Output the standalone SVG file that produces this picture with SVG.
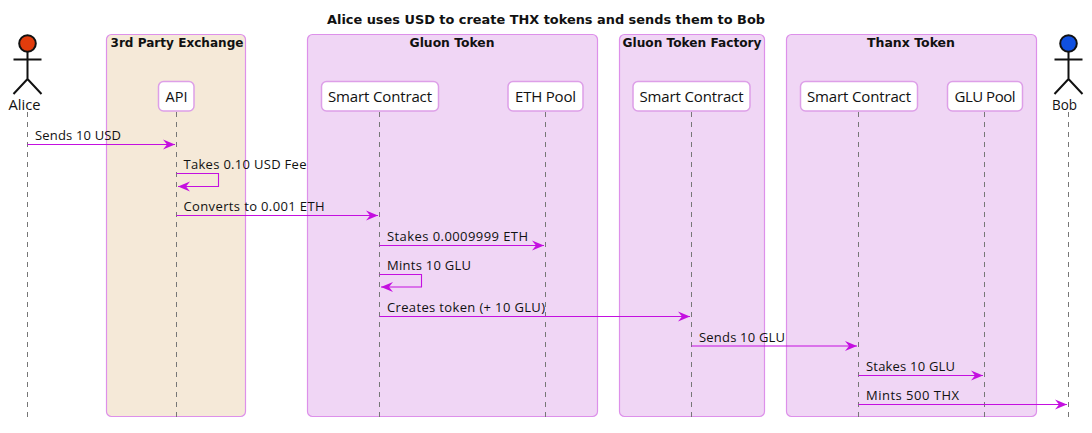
<svg xmlns="http://www.w3.org/2000/svg" width="1092" height="433" viewBox="0 0 1092 433">
<defs>
<marker id="ah" markerUnits="userSpaceOnUse" markerWidth="14" markerHeight="12" refX="12" refY="5" orient="auto-start-reverse" overflow="visible"><path d="M0,0 L12,5 L0,10 L4,5 Z" fill="#c40fe0"/></marker>
</defs>
<style>
text{font-family:"Open Sans","Noto Sans","DejaVu Sans",sans-serif;fill:#111}
.title{font-family:"DejaVu Sans",sans-serif;font-size:13px;font-weight:bold;text-anchor:middle}
.box{stroke:#dd90ea;stroke-width:1.2}
.bt{font-family:"DejaVu Sans",sans-serif;font-size:12px;font-weight:bold;text-anchor:middle}
.p{fill:#fff;stroke:#dd9fe8;stroke-width:1.5}
.pt{font-size:15px;text-anchor:middle}
.life{stroke:#777;stroke-width:1;stroke-dasharray:5 5;fill:none}
.msg{stroke:#c40fe0;stroke-width:1.1;fill:none;marker-end:url(#ah)}
.ml{font-size:13px}
.actor{stroke:#111;stroke-width:2;fill:none}
</style>
<rect width="1092" height="433" fill="#fff"/>
<text class="title" x="546" y="24" textLength="438" lengthAdjust="spacingAndGlyphs">Alice uses USD to create THX tokens and sends them to Bob</text>
<g id="box-exchange"><rect class="box" x="106.5" y="34.5" width="139" height="382" rx="5" fill="#f5e9d8"/><text class="bt" x="177" y="47" textLength="133" lengthAdjust="spacingAndGlyphs">3rd Party Exchange</text></g>
<g id="box-gluon"><rect class="box" x="307.5" y="34.5" width="290" height="382" rx="5" fill="#f0d6f5"/><text class="bt" x="452" y="47" textLength="85" lengthAdjust="spacingAndGlyphs">Gluon Token</text></g>
<g id="box-factory"><rect class="box" x="619.5" y="34.5" width="145" height="382" rx="5" fill="#f0d6f5"/><text class="bt" x="692" y="47" textLength="139" lengthAdjust="spacingAndGlyphs">Gluon Token Factory</text></g>
<g id="box-thanx"><rect class="box" x="786.5" y="34.5" width="250" height="382" rx="5" fill="#f0d6f5"/><text class="bt" x="911" y="47" textLength="88" lengthAdjust="spacingAndGlyphs">Thanx Token</text></g>
<g id="lifelines">
<path class="life" d="M27.5 112V417"/><path class="life" d="M176.5 112V417"/><path class="life" d="M379.5 112V417"/><path class="life" d="M545.5 112V417"/><path class="life" d="M691.5 112V417"/><path class="life" d="M858.5 112V417"/><path class="life" d="M984.5 112V417"/><path class="life" d="M1068.5 112V417"/>
</g>
<g id="alice"><circle cx="27.5" cy="43.5" r="8.3" fill="#e23c0c" stroke="#111" stroke-width="2"/><path class="actor" d="M27.5 52V79M13.5 59.5H41.5M13.5 94L27.5 79L41.5 94"/><text class="pt" x="24.5" y="110" textLength="32" lengthAdjust="spacingAndGlyphs">Alice</text></g>
<g id="bob"><circle cx="1068.5" cy="43.5" r="8.3" fill="#1050e0" stroke="#111" stroke-width="2"/><path class="actor" d="M1068.5 52V79M1054.5 59.5H1082.5M1054.5 94L1068.5 79L1082.5 94"/><text class="pt" x="1064.5" y="110" textLength="25" lengthAdjust="spacingAndGlyphs">Bob</text></g>
<g id="api"><rect class="p" x="158.5" y="81.5" width="35.5" height="29.5" rx="5"/><text class="pt" x="176.5" y="102" textLength="22" lengthAdjust="spacingAndGlyphs">API</text></g>
<g id="gluon-sc"><rect class="p" x="321.5" y="81.5" width="117" height="29.5" rx="5"/><text class="pt" x="380" y="102" textLength="104" lengthAdjust="spacing">Smart Contract</text></g>
<g id="eth-pool"><rect class="p" x="508" y="81.5" width="75" height="29.5" rx="5"/><text class="pt" x="545.5" y="102" textLength="61" lengthAdjust="spacing">ETH Pool</text></g>
<g id="factory-sc"><rect class="p" x="633" y="81.5" width="117" height="29.5" rx="5"/><text class="pt" x="691.5" y="102" textLength="104" lengthAdjust="spacing">Smart Contract</text></g>
<g id="thanx-sc"><rect class="p" x="800.5" y="81.5" width="117" height="29.5" rx="5"/><text class="pt" x="859" y="102" textLength="104" lengthAdjust="spacing">Smart Contract</text></g>
<g id="glu-pool"><rect class="p" x="947.5" y="81.5" width="75" height="29.5" rx="5"/><text class="pt" x="985" y="102" textLength="61" lengthAdjust="spacing">GLU Pool</text></g>
<g id="connectors">
<path class="msg" d="M27.5 144.5H175"/>
<path class="msg" d="M176.5 173.5H218.5V186.5H178"/>
<path class="msg" d="M176.5 215.5H378"/>
<path class="msg" d="M379.5 245.5H544"/>
<path class="msg" d="M379.5 274.5H421.5V287H381"/>
<path class="msg" d="M379.5 316.5H690"/>
<path class="msg" d="M691.5 346H857"/>
<path class="msg" d="M858.5 375.5H983"/>
<path class="msg" d="M858.5 404.5H1067"/>
</g>
<g id="labels">
<text class="ml" x="35" y="139.5" textLength="86" lengthAdjust="spacing">Sends 10 USD</text>
<text class="ml" x="183.5" y="169" textLength="123" lengthAdjust="spacing">Takes 0.10 USD Fee</text>
<text class="ml" x="183.5" y="211" textLength="141" lengthAdjust="spacing">Converts to 0.001 ETH</text>
<text class="ml" x="387" y="240.5" textLength="141" lengthAdjust="spacing">Stakes 0.0009999 ETH</text>
<text class="ml" x="387" y="270" textLength="84" lengthAdjust="spacing">Mints 10 GLU</text>
<text class="ml" x="387" y="312" textLength="158" lengthAdjust="spacing">Creates token (+ 10 GLU)</text>
<text class="ml" x="699" y="341.5" textLength="86" lengthAdjust="spacing">Sends 10 GLU</text>
<text class="ml" x="866" y="371" textLength="89" lengthAdjust="spacing">Stakes 10 GLU</text>
<text class="ml" x="866" y="400" textLength="93" lengthAdjust="spacing">Mints 500 THX</text>
</g>
</svg>
